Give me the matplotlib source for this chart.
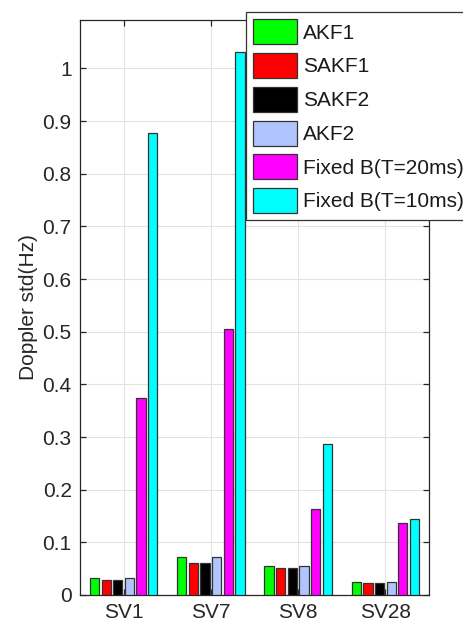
import matplotlib
matplotlib.use("Agg")
import matplotlib.pyplot as plt
import numpy as np

plt.rcParams['font.family'] = ['Liberation Sans', 'DejaVu Sans']

satellites = ["SV1", "SV7", "SV8", "SV28"]
series_names = ["AKF1", "SAKF1", "SAKF2", "AKF2", "Fixed B(T=20ms)", "Fixed B(T=10ms)"]
series_colors = ["#00ff00", "#ff0000", "#000000", "#b0c4ff", "#ff00ff", "#00ffff"]

akf1 = [0.032, 0.072, 0.056, 0.025]
sakf1 = [0.029, 0.060, 0.052, 0.023]
sakf2 = [0.029, 0.060, 0.052, 0.023]
akf2 = [0.032, 0.072, 0.056, 0.025]
fixed_20ms = [0.374, 0.505, 0.164, 0.137]
fixed_10ms = [0.877, 1.032, 0.287, 0.145]

series_values = [akf1, sakf1, sakf2, akf2, fixed_20ms, fixed_10ms]

FS = 15

fig = plt.figure(figsize=(4.64, 6.24), dpi=100)
ax = fig.add_axes([80 / 464, 1 - 595 / 624, (429 - 80) / 464, (595 - 20) / 624])

x = np.arange(1, len(satellites) + 1)
n = len(series_values)
group_width = 0.8
step = group_width / n
bar_w = step * 0.8

for i, (vals, name, col) in enumerate(zip(series_values, series_names, series_colors)):
    offset = (i - (n - 1) / 2) * step
    ax.bar(x + offset, vals, width=bar_w, color=col, edgecolor="#333333",
           linewidth=0.9, label=name, zorder=3)

ax.set_xlim(0.5, 4.5)
ax.set_ylim(0, 1.092)
ax.set_xticks(x)
ax.set_xticklabels(satellites)
yt = np.round(np.arange(0, 1.01, 0.1), 1)
ax.set_yticks(yt)
ax.set_yticklabels(["0" if v == 0 else ("1" if v == 1 else f"{v:g}") for v in yt])

ax.grid(True, color="#e3e3e3", linewidth=0.8, zorder=0)
ax.set_axisbelow(True)
for s in ax.spines.values():
    s.set_color("#262626")
    s.set_linewidth(0.9)
ax.tick_params(direction="in", length=4, width=0.9, color="#262626",
               top=True, right=True, labelsize=FS, labelcolor="#262626", pad=6)
ax.tick_params(axis="x", pad=6)
ax.set_ylabel("Doppler std(Hz)", fontsize=FS, color="#262626", labelpad=3)

leg = ax.legend(loc="upper left", bbox_to_anchor=(246 / 464, 1 - 12 / 624),
                bbox_transform=fig.transFigure, fontsize=FS, frameon=True,
                fancybox=False, framealpha=1, edgecolor="#333333",
                handlelength=2.12, handleheight=1.47, labelspacing=0.42,
                handletextpad=0.25, borderpad=0.35, borderaxespad=0)
leg.get_frame().set_linewidth(0.9)
for t in leg.get_texts():
    t.set_color("#1a1a1a")

fig.savefig("out.png", dpi=100)
